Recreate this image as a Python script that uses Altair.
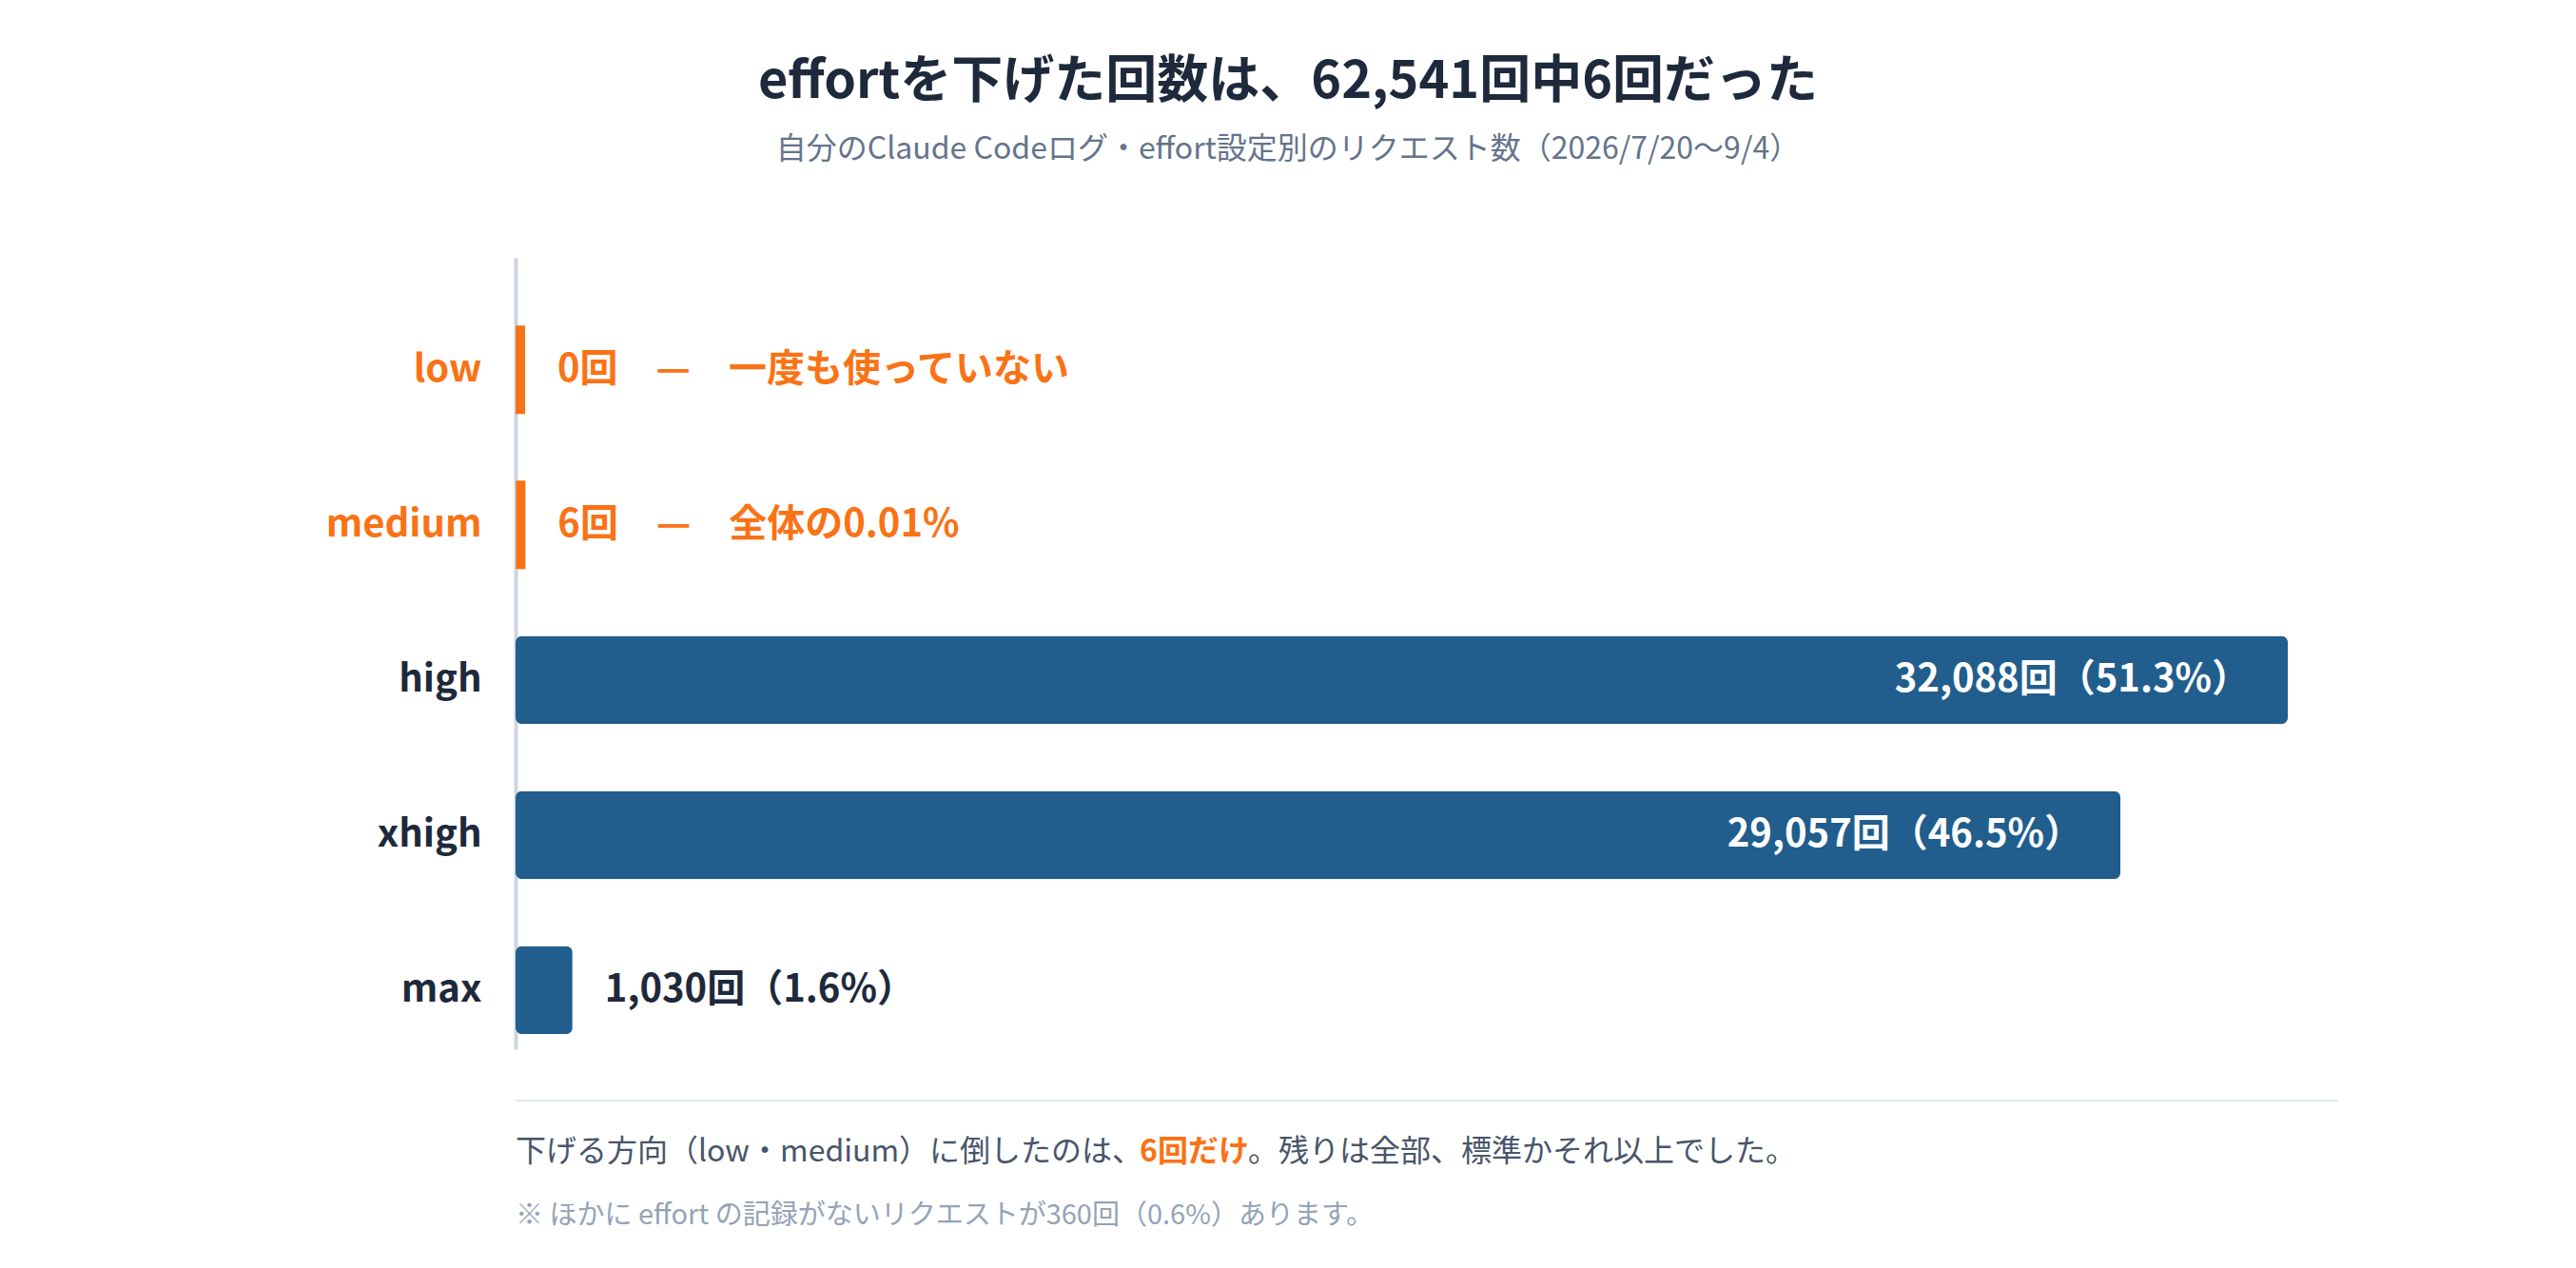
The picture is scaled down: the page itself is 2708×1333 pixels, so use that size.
import altair as alt
import pandas as pd

FONT = "Noto Sans CJK JP"

# ---- data ----
categories = ["low", "medium", "high", "xhigh", "max"]
counts = [0, 6, 32088, 29057, 1030]
value_labels = [
    "0回　—　一度も使っていない",
    "6回　—　全体の0.01%",
    "32,088回（51.3%）",
    "29,057回（46.5%）",
    "1,030回（1.6%）",
]
label_styles = ["accent", "accent", "inside", "inside", "outside"]

title_text = "effortを下げた回数は、62,541回中6回だった"
subtitle_text = "自分のClaude Codeログ・effort設定別のリクエスト数（2026/7/20〜9/4）"
note_parts = ["下げる方向（low・medium）に倒したのは、", "6回だけ", "。残りは全部、標準かそれ以上でした。"]
note_sub = "※ ほかに effort の記録がないリクエストが360回（0.6%）あります。"

BLUE = "#215d8d"
ORANGE = "#f97316"
DARK = "#1e293b"

df = pd.DataFrame({
    "effort": categories,
    "count": counts,
    "label": value_labels,
    "style": label_styles,
})

W, H = 1916, 832

y_enc = alt.Y(
    "effort:N",
    sort=categories,
    scale=alt.Scale(paddingInner=0.43, paddingOuter=0.267, align=0.82),
    axis=alt.Axis(
        title=None,
        domainColor="#cbd5e1",
        domainWidth=4,
        ticks=False,
        labelPadding=36,
        labelFontSize=40,
        labelFontWeight="bold",
        labelFont=FONT,
        labelColor=alt.expr(
            "datum.value == 'low' || datum.value == 'medium' ? '%s' : '%s'" % (ORANGE, DARK)
        ),
    ),
)
x_enc = alt.X("count:Q", scale=alt.Scale(domain=[0, 33000], nice=False), axis=None)

base = alt.Chart(df).encode(y=y_enc, x=x_enc)

bars = base.transform_filter("datum.style != 'accent'").mark_bar(
    color=BLUE, cornerRadius=7
)
ticks = base.transform_filter("datum.style == 'accent'").mark_tick(
    color=ORANGE, thickness=10, size=93, xOffset=5, opacity=1
)

inside = base.transform_filter("datum.style == 'inside'").mark_text(
    align="right", baseline="middle", dx=-40, color="white",
    fontSize=40, fontWeight="bold", font=FONT
).encode(text="label:N")

outside = base.transform_filter("datum.style == 'outside'").mark_text(
    align="left", baseline="middle", dx=34, color=DARK,
    fontSize=40, fontWeight="bold", font=FONT
).encode(text="label:N")

accent = base.transform_filter("datum.style == 'accent'").mark_text(
    align="left", baseline="middle", dx=44, color=ORANGE,
    fontSize=40, fontWeight="bold", font=FONT
).encode(text="label:N")

sep = alt.Chart(pd.DataFrame({"k": [0]})).mark_rule(
    color="#e2e8f0", strokeWidth=2
).encode(x=alt.value(0), x2=alt.value(W), y=alt.value(886))

def note(txt, x, y, color, size, weight="normal"):
    return alt.Chart(pd.DataFrame({"t": [txt]})).mark_text(
        align="left", baseline="middle", color=color, fontSize=size,
        fontWeight=weight, font=FONT
    ).encode(text="t:N", x=alt.value(x), y=alt.value(y))

n1 = note(note_parts[0], 0, 940, "#475569", 32)
n2 = note(note_parts[1], 656, 940, ORANGE, 32, "bold")
n3 = note(note_parts[2], 770, 940, "#475569", 32)
n4 = note(note_sub, 0, 1007, "#94a3b8", 29)

chart = alt.layer(bars, ticks, inside, outside, accent, sep, n1, n2, n3, n4).properties(
    width=W,
    height=H,
    background="white",
    autosize=alt.AutoSizeParams(type="none"),
    padding={"left": 534, "top": 263, "right": 230, "bottom": 210},
    title=alt.TitleParams(
        text=title_text,
        subtitle=subtitle_text,
        anchor="middle",
        frame="group",
        dx=-146,
        offset=98,
        font=FONT,
        fontSize=54,
        fontWeight="bold",
        color=DARK,
        subtitleFont=FONT,
        subtitleFontSize=32,
        subtitleColor="#64748b",
        subtitlePadding=28,
    ),
).configure_view(strokeWidth=0, stroke="transparent")

chart.save("out.html", embed_options={"renderer": "svg", "actions": False})
